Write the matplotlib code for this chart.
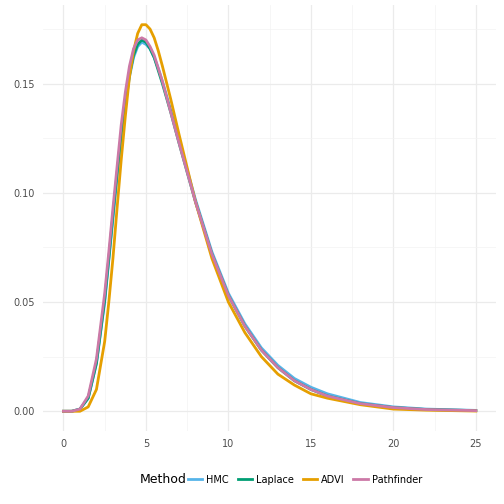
import matplotlib
matplotlib.use("Agg")
import matplotlib.pyplot as plt
from matplotlib.ticker import MultipleLocator
from matplotlib.lines import Line2D

x = [0, 0.5, 1, 1.5, 2, 2.5, 2.75, 3, 3.25, 3.5, 3.75, 4, 4.25, 4.5, 4.75, 5,
     5.25, 5.5, 5.75, 6, 6.5, 7, 8, 9, 10, 11, 12, 13, 14, 15, 16, 18, 20, 22, 25]
hmc = [0, 0, 0.001, 0.006, 0.022, 0.050, 0.069, 0.088, 0.107, 0.125, 0.140,
       0.153, 0.162, 0.167, 0.169, 0.168, 0.166, 0.162, 0.157, 0.151, 0.138,
       0.124, 0.097, 0.073, 0.054, 0.040, 0.029, 0.021, 0.015, 0.011, 0.008,
       0.004, 0.002, 0.001, 0.0004]
laplace = [0, 0, 0.001, 0.006, 0.022, 0.051, 0.070, 0.090, 0.109, 0.127, 0.141,
           0.154, 0.163, 0.168, 0.170, 0.169, 0.166, 0.162, 0.156, 0.150, 0.137,
           0.123, 0.096, 0.072, 0.053, 0.039, 0.028, 0.020, 0.014, 0.010, 0.007,
           0.0035, 0.0017, 0.0008, 0.0003]
advi = [0, 0, 0, 0.002, 0.010, 0.032, 0.050, 0.070, 0.093, 0.115, 0.135,
        0.153, 0.165, 0.173, 0.177, 0.177, 0.175, 0.171, 0.165, 0.158, 0.143,
        0.127, 0.096, 0.070, 0.050, 0.036, 0.025, 0.017, 0.012, 0.008, 0.006,
        0.003, 0.001, 0.0005, 0.0001]
pathfinder = [0, 0, 0.001, 0.007, 0.024, 0.054, 0.073, 0.093, 0.112, 0.131, 0.146,
              0.158, 0.166, 0.170, 0.171, 0.170, 0.167, 0.163, 0.157, 0.151, 0.137,
              0.123, 0.096, 0.072, 0.053, 0.039, 0.028, 0.020, 0.014, 0.010, 0.007,
              0.0035, 0.0017, 0.0008, 0.0003]

SERIES = [("HMC", hmc, "#56B4E9"), ("Laplace", laplace, "#009E73"),
          ("ADVI", advi, "#E69F00"), ("Pathfinder", pathfinder, "#CC79A7")]

fig = plt.figure(figsize=(5.04, 5.04), dpi=100)
ax = fig.add_axes([0.085, 0.145, 0.9, 0.845])
for name, y, c in SERIES:
    ax.plot(x, y, color=c, lw=2, label=name, solid_joinstyle="round")

ax.set_xlim(-1.25, 26.25)
ax.set_ylim(-0.009, 0.186)
ax.xaxis.set_major_locator(MultipleLocator(5))
ax.xaxis.set_minor_locator(MultipleLocator(2.5))
ax.yaxis.set_major_locator(MultipleLocator(0.05))
ax.yaxis.set_minor_locator(MultipleLocator(0.025))
ax.yaxis.set_major_formatter(lambda v, p: f"{v:.2f}")
ax.grid(True, which="major", color="#ebebeb", lw=0.9)
ax.grid(True, which="minor", color="#f3f3f3", lw=0.5)
ax.set_axisbelow(True)
for s in ax.spines.values():
    s.set_visible(False)
ax.tick_params(which="both", length=0, labelsize=7, colors="#4d4d4d", pad=6)

handles = [Line2D([], [], color=c, lw=2) for _, _, c in SERIES]
fig.legend(handles, [n for n, _, _ in SERIES], loc="center left",
           bbox_to_anchor=(0.355, 0.048), ncol=4, frameon=False, fontsize=7,
           handlelength=1.5, columnspacing=0.9, handletextpad=0.4)
fig.text(0.278, 0.048, "Method", fontsize=9, va="center")

fig.savefig("out.png", dpi=100)
